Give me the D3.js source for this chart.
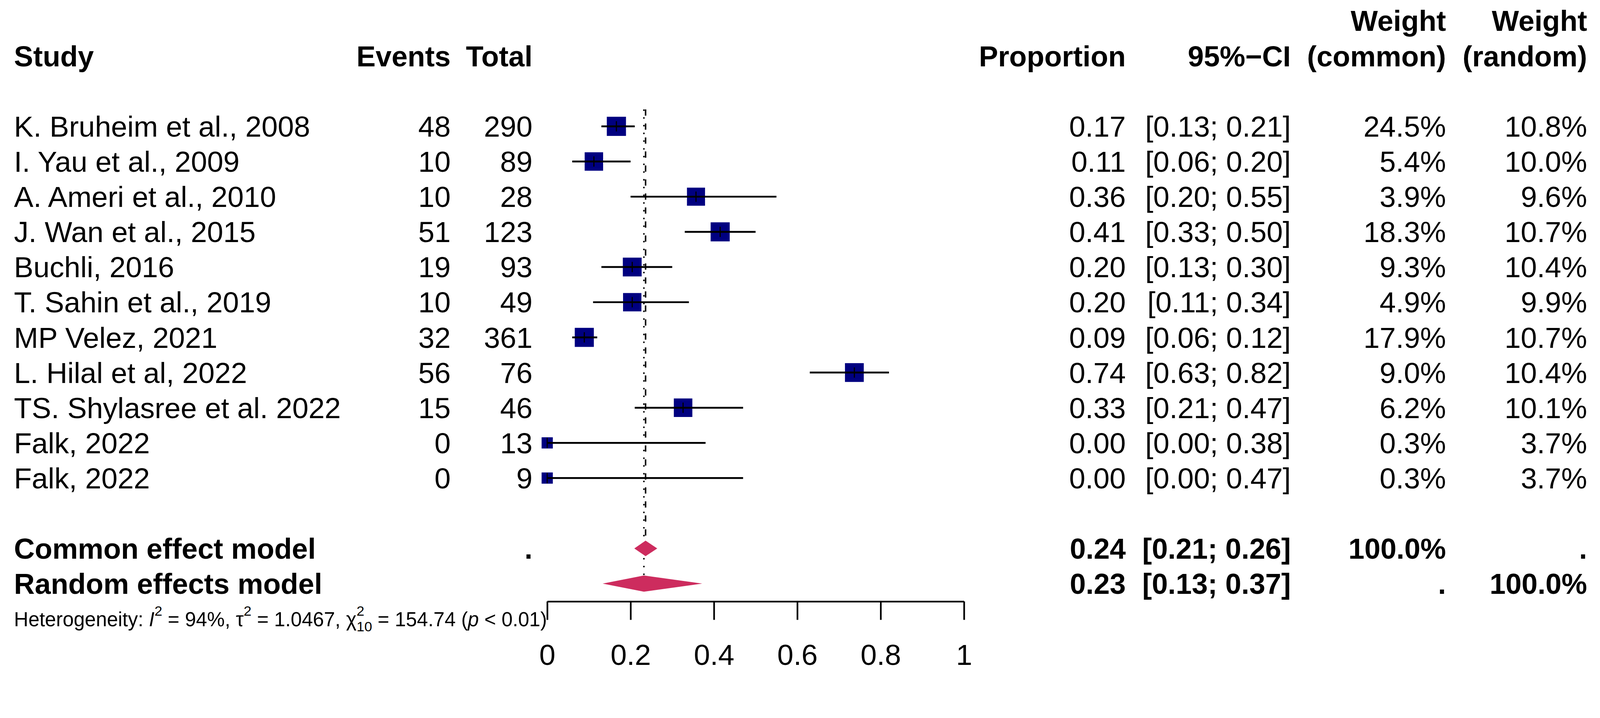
<!DOCTYPE html>
<html>
<head>
<meta charset="utf-8">
<script src="https://cdn.jsdelivr.net/npm/d3@7"></script>
<style>
html, body { margin: 0; padding: 0; background: #fff; overflow: hidden; }
text { font-family: "Liberation Sans", Arial, sans-serif; fill: #000; }
</style>
</head>
<body>
<div id="chart"></div>
<script>
// study data
var studies = ["K. Bruheim et al., 2008", "I. Yau et al., 2009", "A. Ameri et al., 2010",
    "J. Wan et al., 2015", "Buchli, 2016", "T. Sahin et al., 2019", "MP Velez, 2021",
    "L. Hilal et al, 2022", "TS. Shylasree et al. 2022", "Falk, 2022", "Falk, 2022"];
var events = [48, 10, 10, 51, 19, 10, 32, 56, 15, 0, 0];
var totals = [290, 89, 28, 123, 93, 49, 361, 76, 46, 13, 9];
var proportion = [0.166, 0.112, 0.357, 0.415, 0.204, 0.204, 0.089, 0.737, 0.326, 0, 0];
var ciLower = [0.13, 0.06, 0.20, 0.33, 0.13, 0.11, 0.06, 0.63, 0.21, 0, 0];
var ciUpper = [0.21, 0.20, 0.55, 0.50, 0.30, 0.34, 0.12, 0.82, 0.47, 0.38, 0.47];
var weightCommon = [24.5, 5.4, 3.9, 18.3, 9.3, 4.9, 17.9, 9.0, 6.2, 0.3, 0.3];
var weightRandom = [10.8, 10.0, 9.6, 10.7, 10.4, 9.9, 10.7, 10.4, 10.1, 3.7, 3.7];

// pooled estimates
var models = ["Common effect model", "Random effects model"];
var modelEst = [0.236, 0.232];
var modelLower = [0.209, 0.133];
var modelUpper = [0.264, 0.372];
var modelWeightCommon = ["100.0%", "."];
var modelWeightRandom = [".", "100.0%"];

var axisTicks = [0, 0.2, 0.4, 0.6, 0.8, 1];

// layout (drawn in a 4342 x 1839 frame, scaled to the window width)
var containerWidth = 4342,
    containerHeight = 1839,
    fontSize = 79,
    col = { study: 38, events: 1223, total: 1445, prop: 3055, ci: 3503, wCommon: 3924, wRandom: 4307 };

var f2 = d3.format(".2f"),
    f1 = d3.format(".1f");

var svg = d3.select("#chart")
    .append("svg")
    .attr("viewBox", "0 0 " + containerWidth + " " + containerHeight)
    .attr("preserveAspectRatio", "xMidYMin meet")
    .style("width", "100vw")
    .style("height", "100vh")
    .style("display", "block");

svg.append("rect").attr("width", containerWidth).attr("height", containerHeight).attr("fill", "#fff");

var x = d3.scaleLinear().domain([0, 1]).range([1485, 2616]);
// row index -> y centre (studies 0..10, blank 11, models 12..13, headers -2/-3)
var y = d3.scaleLinear().domain([0, 13]).range([343, 343 + 13 * 95.5]);
var size = d3.scaleSqrt().domain([0, 10.8]).range([0, 52]);

function cell(g, xPos, row, txt, anchor, bold) {
    g.append("text")
        .attr("x", xPos)
        .attr("y", y(row))
        .attr("dy", "0.355em")
        .attr("text-anchor", anchor)
        .style("font-size", (bold ? 78 : fontSize) + "px")
        .style("font-weight", bold ? "bold" : "normal")
        .text(txt);
}

// headers
var head = svg.append("g").attr("class", "header");
cell(head, col.study, -2, "Study", "start", true);
cell(head, col.events, -2, "Events", "end", true);
cell(head, col.total, -2, "Total", "end", true);
cell(head, col.prop, -2, "Proportion", "end", true);
cell(head, col.ci, -2, "95%\u2212CI", "end", true);
cell(head, col.wCommon, -3, "Weight", "end", true);
cell(head, col.wCommon, -2, "(common)", "end", true);
cell(head, col.wRandom, -3, "Weight", "end", true);
cell(head, col.wRandom, -2, "(random)", "end", true);

// study rows text
var tbl = svg.append("g").attr("class", "table");
studies.forEach(function(s, i) {
    cell(tbl, col.study, i, s, "start", false);
    cell(tbl, col.events, i, events[i], "end", false);
    cell(tbl, col.total, i, totals[i], "end", false);
    cell(tbl, col.prop, i, f2(proportion[i]), "end", false);
    cell(tbl, col.ci, i, "[" + f2(ciLower[i]) + "; " + f2(ciUpper[i]) + "]", "end", false);
    cell(tbl, col.wCommon, i, f1(weightCommon[i]) + "%", "end", false);
    cell(tbl, col.wRandom, i, f1(weightRandom[i]) + "%", "end", false);
});

// model rows text
models.forEach(function(m, j) {
    var r = 12 + j;
    cell(tbl, col.study, r, m, "start", true);
    if (j === 0) cell(tbl, col.total, r, ".", "end", true);
    cell(tbl, col.prop, r, f2(modelEst[j]), "end", true);
    cell(tbl, col.ci, r, "[" + f2(modelLower[j]) + "; " + f2(modelUpper[j]) + "]", "end", true);
    cell(tbl, col.wCommon, r, modelWeightCommon[j], "end", true);
    cell(tbl, col.wRandom, r, modelWeightRandom[j], "end", true);
});

// reference lines for pooled estimates
var plot = svg.append("g").attr("class", "plot");
plot.append("line")
    .attr("x1", x(modelEst[0])).attr("x2", x(modelEst[0]))
    .attr("y1", y(-0.48)).attr("y2", y(12) - 21)
    .attr("stroke", "#000").attr("stroke-width", 4)
    .attr("stroke-dasharray", "17,21");
plot.append("line")
    .attr("x1", x(modelEst[1])).attr("x2", x(modelEst[1]))
    .attr("y1", y(-0.48)).attr("y2", y(13) - 22)
    .attr("stroke", "#000").attr("stroke-width", 4)
    .attr("stroke-dasharray", "4,17");

// study markers
studies.forEach(function(s, i) {
    var cy = y(i), sz = size(weightRandom[i]);
    plot.append("rect")
        .attr("x", x(proportion[i]) - sz / 2)
        .attr("y", cy - sz / 2)
        .attr("width", sz)
        .attr("height", sz)
        .attr("fill", "#000080");
    plot.append("line")
        .attr("x1", x(ciLower[i])).attr("x2", x(ciUpper[i]))
        .attr("y1", cy).attr("y2", cy)
        .attr("stroke", "#000").attr("stroke-width", 5);
    plot.append("line")
        .attr("x1", x(proportion[i])).attr("x2", x(proportion[i]))
        .attr("y1", cy - 14).attr("y2", cy + 14)
        .attr("stroke", "#000").attr("stroke-width", 3);
});

// diamonds
var halfH = [21, 22];
models.forEach(function(m, j) {
    var cy = y(12 + j);
    var pts = [[x(modelLower[j]), cy], [x(modelEst[j]), cy - halfH[j]],
               [x(modelUpper[j]), cy], [x(modelEst[j]), cy + halfH[j]]];
    plot.append("polygon")
        .attr("points", pts.map(function(p) { return p.join(","); }).join(" "))
        .attr("fill", "#CD2C5E");
});

// x axis
var axisG = svg.append("g")
    .attr("transform", "translate(0,1633)")
    .call(d3.axisBottom(x).tickValues(axisTicks).tickFormat(d3.format("")).tickSize(50).tickSizeOuter(0).tickPadding(66));
axisG.select(".domain").attr("stroke-width", 4.5);
axisG.selectAll(".tick line").attr("stroke-width", 4.5);
axisG.selectAll(".tick text")
    .style("font-size", fontSize + "px")
    .style("font-family", "'Liberation Sans', Arial, sans-serif");

// heterogeneity statistics
var het = svg.append("text").attr("x", 38).attr("y", 1700).style("font-size", "54px");
het.append("tspan").text("Heterogeneity: ");
het.append("tspan").style("font-style", "italic").text("I");
het.append("tspan").attr("dy", -28).style("font-size", "38px").text("2");
het.append("tspan").attr("dy", 28).text(" = 94%, \u03c4");
het.append("tspan").attr("dy", -28).style("font-size", "38px").text("2");
het.append("tspan").attr("dy", 28).text(" = 1.0467, \u03c7");
het.append("tspan").attr("dy", -28).style("font-size", "38px").text("2");
het.append("tspan").attr("dx", -21).attr("dy", 42).style("font-size", "38px").text("10");
het.append("tspan").attr("dy", -14).text(" = 154.74 (");
het.append("tspan").style("font-style", "italic").text("p");
het.append("tspan").text(" < 0.01)");
</script>
</body>
</html>
